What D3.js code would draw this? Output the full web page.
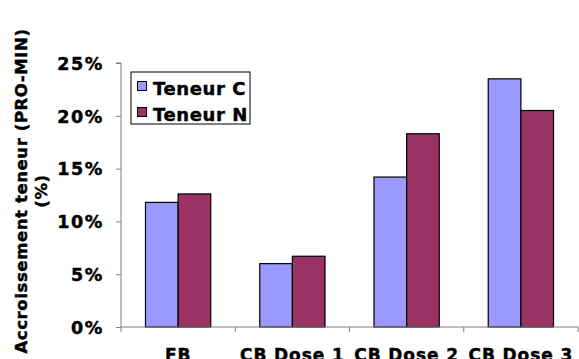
<!DOCTYPE html>
<html>
<head>
<meta charset="utf-8">
<script src="https://cdn.jsdelivr.net/npm/d3@7"></script>
<style>
  html, body { margin: 0; padding: 0; background: #fff; }
  svg { display: block; }
  text { font-family: "DejaVu Sans", Verdana, sans-serif; font-weight: bold; fill: #000; stroke: #000; stroke-width: 0.45px; }
</style>
</head>
<body>
<svg id="chart" width="579" height="359"></svg>
<script>
// Categories and the two series (percent increase)
const categories = ["FB", "CB Dose 1", "CB Dose 2", "CB Dose 3"];
const seriesNames = ["Teneur C", "Teneur N"];
const teneurC = [11.8, 6.0, 14.2, 23.5];
const teneurN = [12.6, 6.7, 18.3, 20.5];
const yTicks = [0, 5, 10, 15, 20, 25];
const colors = ["#9999FF", "#993366"];

const svg = d3.select("#chart");
const m = { left: 121, right: 578, top: 63, bottom: 327 };

const x = d3.scaleBand().domain(categories).range([m.left, m.right]).paddingInner(0).paddingOuter(0);
const y = d3.scaleLinear().domain([0, 25]).range([m.bottom, m.top]);

// bar width follows a 150% gap between clusters
const barW = x.bandwidth() / 3.5;
const series = [teneurC, teneurN];

// bars
series.forEach((vals, s) => {
  svg.append("g").selectAll("rect").data(categories).join("rect")
    .attr("x", d => x(d) + barW * 0.75 + s * barW)
    .attr("y", (d, i) => y(vals[i]))
    .attr("width", barW)
    .attr("height", (d, i) => y(0) - y(vals[i]))
    .attr("fill", colors[s])
    .attr("stroke", "#000")
    .attr("stroke-width", 1.2);
});

// y axis
const yAxis = svg.append("g").attr("transform", `translate(${m.left},0)`)
  .call(d3.axisLeft(y).tickValues(yTicks).tickSize(5).tickPadding(12).tickFormat(d => d + "%"));
yAxis.select(".domain").attr("stroke", "#808080").attr("d", `M-5,${m.top}H0V${m.bottom}`);
yAxis.selectAll(".tick line").attr("stroke", "#808080");
yAxis.selectAll(".tick text")
  .attr("font-size", 17.5).attr("font-family", null).attr("letter-spacing", 1.6)
  .attr("dy", "0.36em");

// x axis with ticks at category boundaries
const xg = svg.append("g").attr("transform", `translate(0,${m.bottom})`);
xg.append("line").attr("x1", m.left).attr("x2", m.right).attr("stroke", "#808080");
const bounds = categories.map(c => x(c)).concat([m.right]);
xg.selectAll("line.tk").data(bounds).join("line").attr("class", "tk")
  .attr("x1", d => d).attr("x2", d => d).attr("y1", 0).attr("y2", 5).attr("stroke", "#808080");
xg.selectAll("text").data(categories).join("text")
  .attr("x", d => x(d) + x.bandwidth() / 2)
  .attr("y", 34)
  .attr("text-anchor", "middle")
  .attr("font-size", 17)
  .attr("letter-spacing", 0.9)
  .text(d => d);

// y axis title (two lines, rotated)
const title = svg.append("text")
  .attr("transform", "translate(21,191) rotate(-90)")
  .attr("text-anchor", "middle")
  .attr("font-size", 16.5)
  .attr("letter-spacing", 0.6);
title.append("tspan").attr("x", 0).attr("dy", "0.35em").text("Accroissement teneur (PRO-MIN)");
title.append("tspan").attr("x", 0).attr("dy", 20).text("(%)");

// legend
const lg = svg.append("g").attr("transform", "translate(131,72)");
lg.append("rect").attr("width", 119).attr("height", 52).attr("fill", "#fff").attr("stroke", "#000").attr("stroke-width", 1);
seriesNames.forEach((n, i) => {
  lg.append("rect").attr("x", 6.5).attr("y", 9.5 + i * 26).attr("width", 9).attr("height", 9)
    .attr("fill", colors[i]).attr("stroke", "#000").attr("stroke-width", 1);
  lg.append("text").attr("x", 22).attr("y", 23 + i * 26).attr("font-size", 18)
    .attr("letter-spacing", 0.6).text(n);
});
</script>
</body>
</html>
